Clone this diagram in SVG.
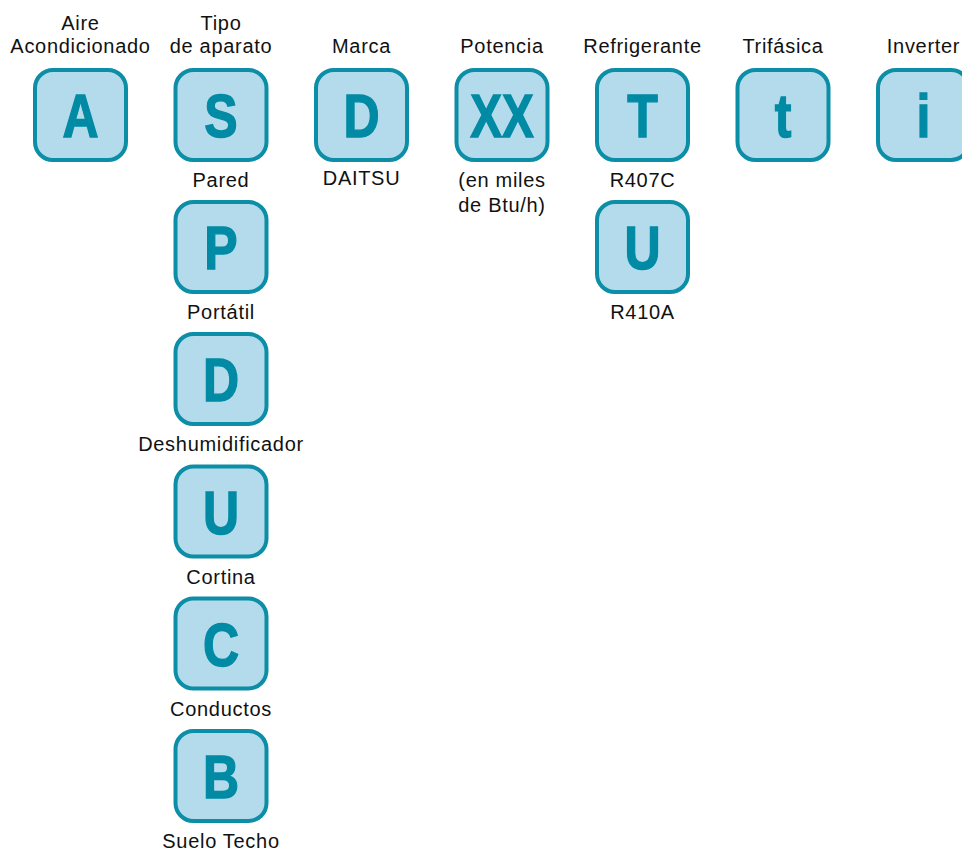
<svg xmlns="http://www.w3.org/2000/svg" width="962" height="852" viewBox="0 0 962 852">
<style>
.box{fill:#b4dbeb;stroke:#0c8ea6;stroke-width:4}
.let{font-family:"Liberation Sans",Arial,sans-serif;font-weight:bold;font-size:61px;fill:#008aa4;stroke:#008aa4;stroke-width:1.4;text-anchor:middle}
.lbl{font-family:"Liberation Sans",Arial,sans-serif;font-size:20px;letter-spacing:0.7px;fill:#111;text-anchor:middle}
</style>
<defs>
<rect id="b" class="box" x="-45.5" y="-45" width="91" height="90" rx="18"/>
</defs>
<rect width="962" height="852" fill="#fff"/>
<g id="connectors"/>
<g id="labels-top">
<text class="lbl" x="80.5" y="30">Aire</text>
<text class="lbl" x="80.5" y="53">Acondicionado</text>
<text class="lbl" x="221" y="30">Tipo</text>
<text class="lbl" x="221" y="53">de aparato</text>
<text class="lbl" x="361.5" y="53">Marca</text>
<text class="lbl" x="502" y="53">Potencia</text>
<text class="lbl" x="642.5" y="53">Refrigerante</text>
<text class="lbl" x="783" y="53">Trifásica</text>
<text class="lbl" x="923.5" y="53">Inverter</text>
</g>
<g id="node-A" transform="translate(80.5,115)"><use href="#b"/><text class="let" transform="translate(0,22) scale(0.82,1)">A</text></g>
<g id="node-S" transform="translate(221,115)"><use href="#b"/><text class="let" transform="translate(0,22) scale(0.82,1)">S</text><text class="lbl" y="72">Pared</text></g>
<g id="node-D-marca" transform="translate(361.5,115)"><use href="#b"/><text class="let" transform="translate(0,22) scale(0.82,1)">D</text><text class="lbl" y="70">DAITSU</text></g>
<g id="node-XX" transform="translate(502,115)"><use href="#b"/><text class="let" transform="translate(0,22) scale(0.78,1)">XX</text><text class="lbl" y="72">(en miles</text><text class="lbl" y="97">de Btu/h)</text></g>
<g id="node-T" transform="translate(642.5,115)"><use href="#b"/><text class="let" transform="translate(0,22) scale(0.82,1)">T</text><text class="lbl" y="72">R407C</text></g>
<g id="node-t" transform="translate(783,115)"><use href="#b"/><text class="let" transform="translate(0,22) scale(0.82,1)">t</text></g>
<g id="node-i" transform="translate(923.5,115)"><use href="#b"/><text class="let" transform="translate(0,22) scale(0.82,1)">i</text></g>
<g id="node-U-refr" transform="translate(642.5,247)"><use href="#b"/><text class="let" transform="translate(0,22) scale(0.82,1)">U</text><text class="lbl" y="72">R410A</text></g>
<g id="node-P" transform="translate(221,247)"><use href="#b"/><text class="let" transform="translate(0,22) scale(0.82,1)">P</text><text class="lbl" y="72">Portátil</text></g>
<g id="node-D" transform="translate(221,379)"><use href="#b"/><text class="let" transform="translate(0,22) scale(0.82,1)">D</text><text class="lbl" y="72">Deshumidificador</text></g>
<g id="node-U" transform="translate(221,511.5)"><use href="#b"/><text class="let" transform="translate(0,22) scale(0.82,1)">U</text><text class="lbl" y="72">Cortina</text></g>
<g id="node-C" transform="translate(221,643.5)"><use href="#b"/><text class="let" transform="translate(0,22) scale(0.82,1)">C</text><text class="lbl" y="72">Conductos</text></g>
<g id="node-B" transform="translate(221,776)"><use href="#b"/><text class="let" transform="translate(0,22) scale(0.82,1)">B</text><text class="lbl" y="72">Suelo Techo</text></g>
</svg>
